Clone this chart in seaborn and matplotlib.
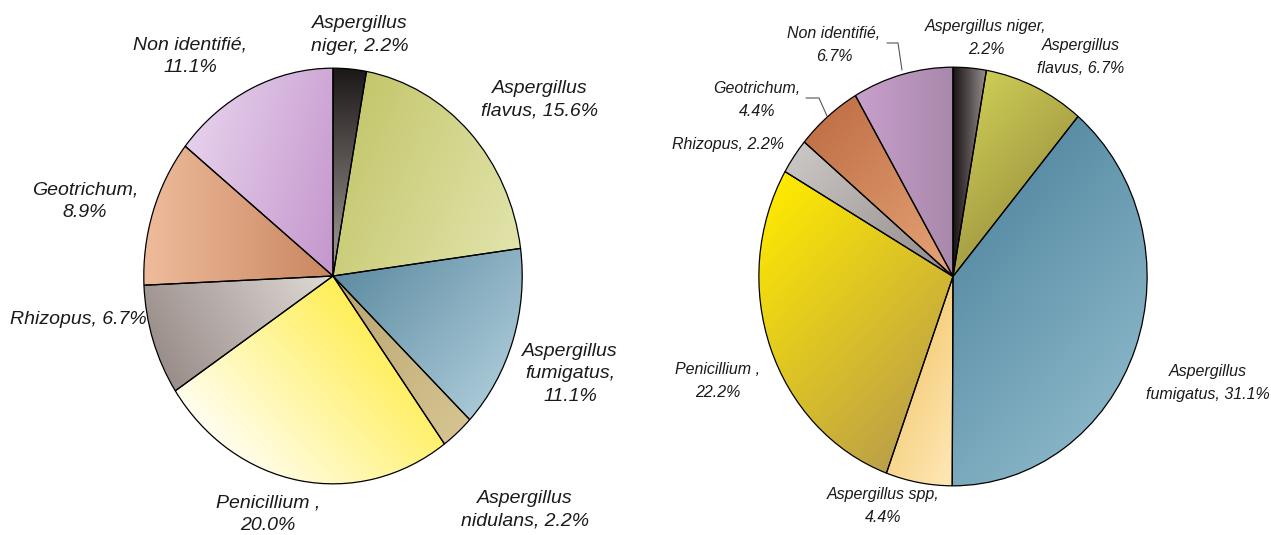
import numpy as np
import seaborn as sns
import matplotlib
matplotlib.use('Agg')
from matplotlib import pyplot as plt
from matplotlib.colors import to_rgb

# data: left chart
LEFT_NAMES = ['Aspergillus niger', 'Aspergillus flavus', 'Aspergillus fumigatus',
              'Aspergillus nidulans', 'Penicillium', 'Rhizopus', 'Geotrichum',
              'Non identifié']
LEFT_VALUES = [2.2, 15.6, 11.1, 2.2, 20.0, 6.7, 8.9, 11.1]
LEFT_LABELS = ['Aspergillus\nniger, 2.2%', 'Aspergillus\nflavus, 15.6%',
               'Aspergillus\nfumigatus,\n11.1%', 'Aspergillus\nnidulans, 2.2%',
               'Penicillium ,\n20.0%', 'Rhizopus, 6.7%', 'Geotrichum,\n8.9%',
               'Non identifié,\n11.1%']

# data: right chart
RIGHT_NAMES = ['Aspergillus niger', 'Aspergillus flavus', 'Aspergillus fumigatus',
               'Aspergillus spp', 'Penicillium', 'Rhizopus', 'Geotrichum',
               'Non identifié']
RIGHT_VALUES = [2.2, 6.7, 31.1, 4.4, 22.2, 2.2, 4.4, 6.7]
RIGHT_LABELS = ['Aspergillus niger,\n2.2%', 'Aspergillus\nflavus, 6.7%',
                'Aspergillus\nfumigatus, 31.1%', 'Aspergillus spp,\n4.4%',
                'Penicillium ,\n22.2%', 'Rhizopus, 2.2%', 'Geotrichum,\n4.4%',
                'Non identifié,\n6.7%']

W, H = 1271, 535

# gradient styling per wedge: (start colour, end colour, direction)
LEFT_STYLE = [('#1c1818', '#a8a09c', (0, -1)),
              ('#c4c76c', '#e2e4ac', (1, -0.5)),
              ('#5e8ca2', '#a8c8d6', (1, -1)),
              ('#b8a470', '#d6c490', (1, -1)),
              ('#ffee55', '#fffef0', (-1, -1)),
              ('#e0dbd8', '#9a8e8a', (-1, -0.6)),
              ('#c98660', '#eebc9c', (-1, 0)),
              ('#c496cc', '#e6d0ec', (-1, 0.3))]
RIGHT_STYLE = [('#1a1414', '#9a9090', (1, 0)),
               ('#cccc55', '#a8a045', (1, -1)),
               ('#5a8ea6', '#88b4c6', (1, -1)),
               ('#f6d080', '#ffe8b8', (1, -0.5)),
               ('#ffea00', '#bca048', (1, -1)),
               ('#cac6c4', '#908a88', (1, -1)),
               ('#c27248', '#e6a478', (1, -1)),
               ('#c8a0cc', '#a888aa', (1, 0))]

# label centres in pixels
LEFT_POS = [(360, 35), (540, 100), (570, 374), (525, 510),
            (268, 514), (78, 320), (85, 201), (190, 56)]
RIGHT_POS = [(986, 38), (1081, 57), (1208, 383), (883, 506),
             (718, 381), (728, 145), (757, 100), (834, 45)]
# leader lines for the right chart (pixels)
RIGHT_LEADERS = [[(806, 98), (819, 98), (827, 116)],
                 [(887, 43), (898, 43), (902, 70)]]


def px_axes(x0, y0, x1, y1):
    return [x0 / W, 1 - y1 / H, (x1 - x0) / W, (y1 - y0) / H]


def draw_pie(ax, values, style):
    wedges, _ = ax.pie(values, startangle=90, counterclock=False, radius=1,
                       wedgeprops=dict(edgecolor='black', linewidth=0.9))
    ax.set_aspect('auto')
    n = 300
    gx, gy = np.meshgrid(np.linspace(-1, 1, n), np.linspace(1, -1, n))
    for w, (c0, c1, d) in zip(wedges, style):
        d = np.array(d, dtype=float)
        d /= np.linalg.norm(d)
        proj = w.get_path().vertices @ d
        lo, hi = proj.min(), proj.max()
        t = np.clip(((gx * d[0] + gy * d[1]) - lo) / (hi - lo), 0, 1)[..., None]
        img = (1 - t) * np.array(to_rgb(c0)) + t * np.array(to_rgb(c1))
        w.set_facecolor('none')
        im = ax.imshow(img, extent=(-1, 1, -1, 1), aspect='auto', zorder=0.5,
                       interpolation='bilinear')
        im.set_clip_path(w)
        w.set_zorder(2)
    ax.set_xlim(-1.02, 1.02)
    ax.set_ylim(-1.02, 1.02)
    ax.axis('off')


sns.set_theme(style='white')
plt.rcParams['font.family'] = ['Liberation Sans', 'DejaVu Sans']

fig = plt.figure(figsize=(W / 100, H / 100), dpi=100)
ax_l = fig.add_axes(px_axes(140, 64, 526, 488))
ax_r = fig.add_axes(px_axes(755, 63, 1151, 490))
draw_pie(ax_l, LEFT_VALUES, LEFT_STYLE)
draw_pie(ax_r, RIGHT_VALUES, RIGHT_STYLE)

for lab, (x, y) in zip(LEFT_LABELS, LEFT_POS):
    fig.text(x / W, 1 - y / H, lab, ha='center', va='center', style='italic',
             fontsize=14, color='#1a1a1a', linespacing=1.4)
for lab, (x, y) in zip(RIGHT_LABELS, RIGHT_POS):
    fig.text(x / W, 1 - y / H, lab, ha='center', va='center', style='italic',
             fontsize=11.5, color='#1a1a1a', linespacing=1.6)
for pts in RIGHT_LEADERS:
    xs = [p[0] / W for p in pts]
    ys = [1 - p[1] / H for p in pts]
    fig.add_artist(plt.Line2D(xs, ys, color='#555555', linewidth=0.8))

fig.savefig('out.png', dpi=100, facecolor='white')
